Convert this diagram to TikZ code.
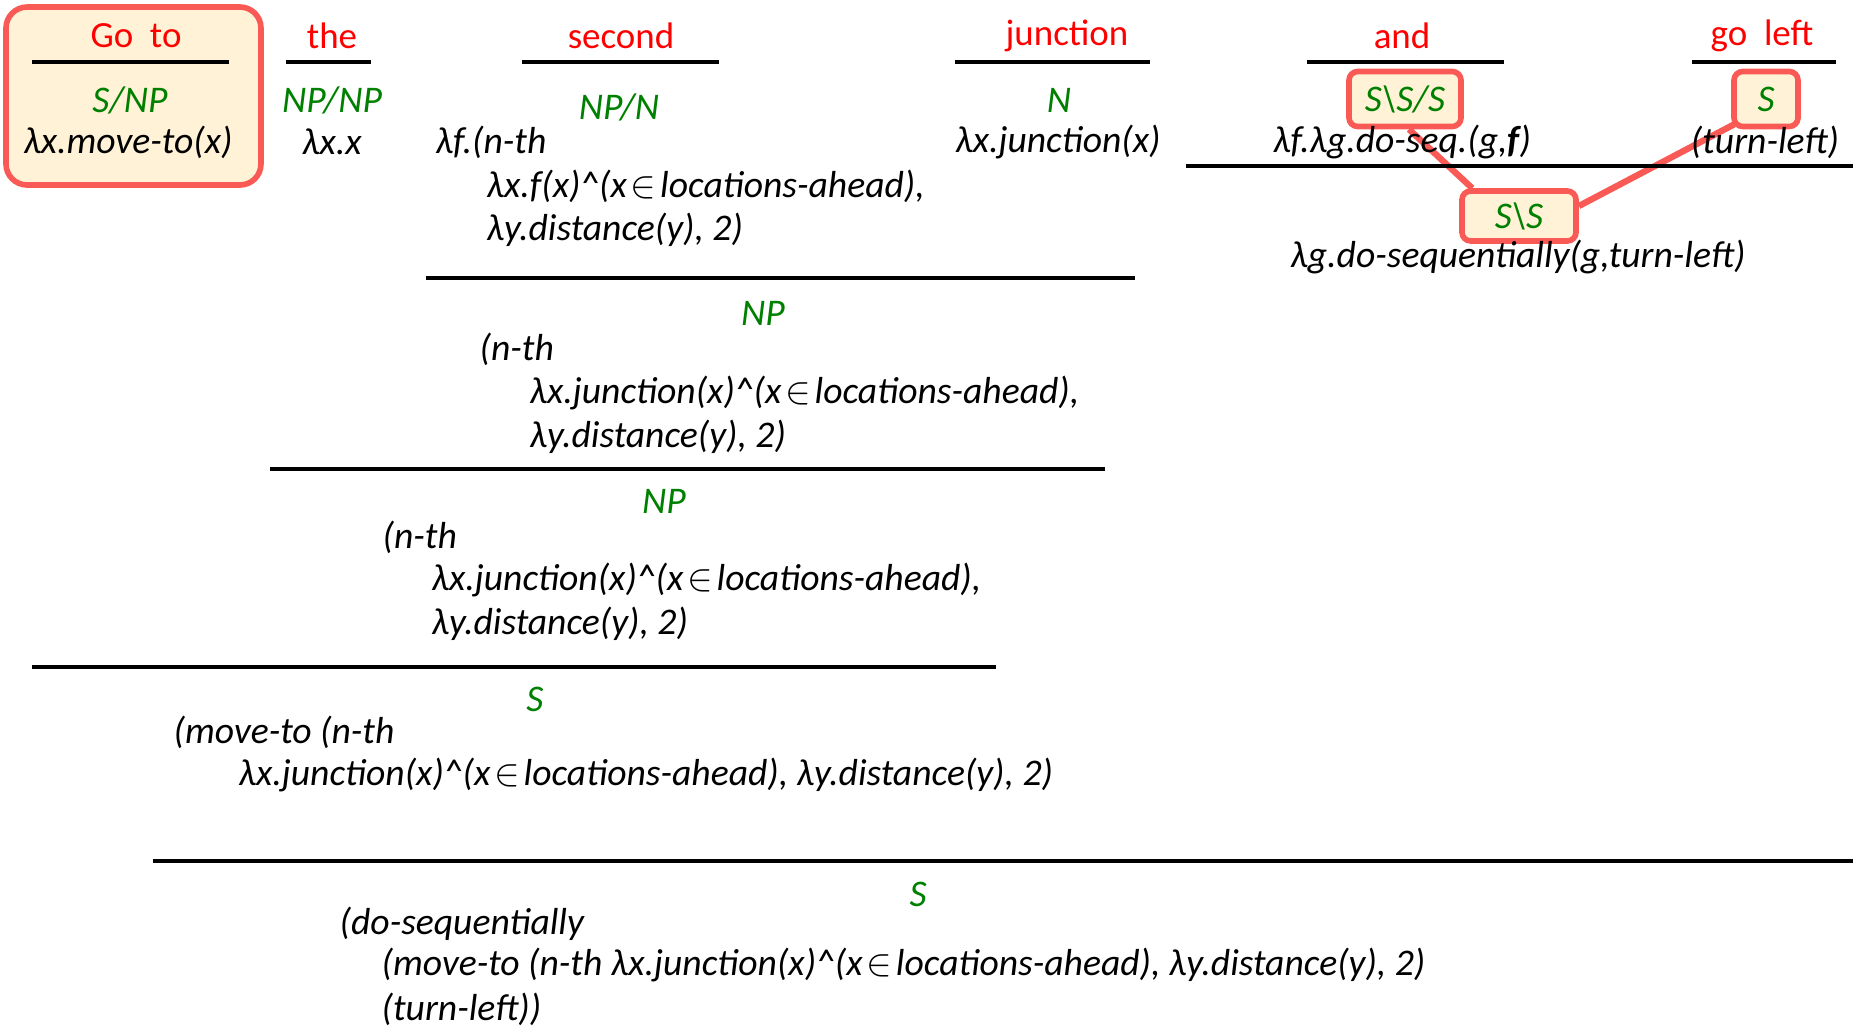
\documentclass[tikz,border=0pt]{standalone}
\usepackage{fontspec}
\setmainfont{Carlito}
\usetikzlibrary{backgrounds}
\definecolor{wordred}{RGB}{255,0,0}
\definecolor{catgreen}{RGB}{0,128,0}
\definecolor{boxred}{RGB}{250,90,85}
\definecolor{boxfill}{RGB}{255,242,214}
\newcommand{\drawbar}{\draw[line width=1.2pt]}
\newcommand{\memberof}{\kern0.1em\ensuremath{\in}\kern0.1em}
\newcommand{\andop}{\textasciicircum}
\newcommand{\semsize}{\fontsize{10.7}{12.8}\selectfont}
\tikzset{
  word/.style={text=wordred, font=\fontsize{10.5}{12.5}\selectfont},
  cat/.style={text=catgreen, font=\semsize\itshape},
  sem/.style={font=\semsize\itshape, inner sep=0pt},
  semline/.style={sem, anchor=west},
  catbox/.style={cat, draw=boxred, fill=boxfill, line width=1.6pt,
    rounded corners=2.5pt, minimum height=0.55cm, inner sep=2pt},
  link/.style={draw=boxred, line width=1.8pt}
}

\begin{document}
\begin{tikzpicture}[x=0.01cm, y=-0.01cm]
\useasboundingbox (0,0) rectangle (1860,1029);

% lexical entries
\draw[draw=boxred, fill=boxfill, line width=1.6pt, rounded corners=6pt] (6,7) rectangle (261,185);
\node[word] (goto) at (136,36) {Go\ \ to};
\node[word] (the) at (332,36) {the};
\node[word] (second) at (621,36) {second};
\node[word] (junction) at (1067,36) {junction};
\node[word] (and) at (1402,36) {and};
\node[word] (goleft) at (1762,36) {go\ \ left};
\drawbar (32,62) -- (229,62);
\drawbar (286,62) -- (371,62);
\drawbar (522,62) -- (719,62);
\drawbar (955,62) -- (1150,62);
\drawbar (1307,62) -- (1504,62);
\drawbar (1692,62) -- (1836,62);

\node[cat] (gotocat) at (130,100) {S/NP};
\node[cat] (thecat) at (332,100) {NP/NP};
\node[cat] (secondcat) at (619,107) {NP/N};
\node[cat] (junctioncat) at (1059,100) {N};
\node[catbox, minimum width=1.12cm] (andcat) at (1405,99) {S\textbackslash S/S};
\node[catbox, minimum width=0.64cm] (goleftcat) at (1766,99) {S};

\node[sem] (gotosem) at (128,142) {λx.move-to(x)};
\node[sem] (thesem) at (332,142) {λx.x};
\node[semline] (secondsem1) at (435,142) {λf.(n-th};
\node[semline] (secondsem2) at (486,186) {λx.f(x)\andop(x\memberof locations-ahead),};
\node[semline] (secondsem3) at (486,230) {λy.distance(y), 2)};
\node[sem] (junctionsem) at (1058,142) {λx.junction(x)};
\node[sem] (andsem) at (1402,142) {λf.λg.do-seq.(g,\textbf{f})};
\node[sem] (goleftsem) at (1765,142) {(turn-left)};

% and + go left
\drawbar (1186,166) -- (1853,166);
\node[catbox, minimum width=1.14cm, minimum height=0.5cm] (conjcat) at (1519,216) {S\textbackslash S};
\node[sem] (conjsem) at (1518,257) {λg.do-sequentially(g,turn-left)};
\begin{scope}[on background layer]
\draw[link] ([xshift=0.04cm]andcat.south) -- ([xshift=0.13cm]conjcat.north west);
\draw[link] ([xshift=0.03cm, yshift=0.05cm]goleftcat.south west) -- ([yshift=0.1cm]conjcat.east);
\end{scope}

% second + junction
\drawbar (426,278) -- (1135,278);
\node[cat] (np1cat) at (763,313) {NP};
\node[semline] (np1sem1) at (479,349) {(n-th};
\node[semline] (np1sem2) at (529,393) {λx.junction(x)\andop(x\memberof locations-ahead),};
\node[semline] (np1sem3) at (529,437) {λy.distance(y), 2)};

% the + NP
\drawbar (270,469) -- (1105,469);
\node[cat] (np2cat) at (664,501) {NP};
\node[semline] (np2sem1) at (382,537) {(n-th};
\node[semline] (np2sem2) at (431,580) {λx.junction(x)\andop(x\memberof locations-ahead),};
\node[semline] (np2sem3) at (431,624) {λy.distance(y), 2)};

% go to + NP
\drawbar (32,667) -- (996,667);
\node[cat] (s1cat) at (535,699) {S};
\node[semline] (s1sem1) at (173,732) {(move-to (n-th};
\node[semline] (s1sem2) at (238,775) {λx.junction(x)\andop(x\memberof locations-ahead), λy.distance(y), 2)};

% whole sentence
\drawbar (153,861) -- (1853,861);
\node[cat] (s2cat) at (918,894) {S};
\node[semline] (s2sem1) at (339,924) {(do-sequentially};
\node[semline] (s2sem2) at (381,965) {(move-to (n-th λx.junction(x)\andop(x\memberof locations-ahead), λy.distance(y), 2)};
\node[semline] (s2sem3) at (381,1009) {(turn-left))};
\end{tikzpicture}
\end{document}
